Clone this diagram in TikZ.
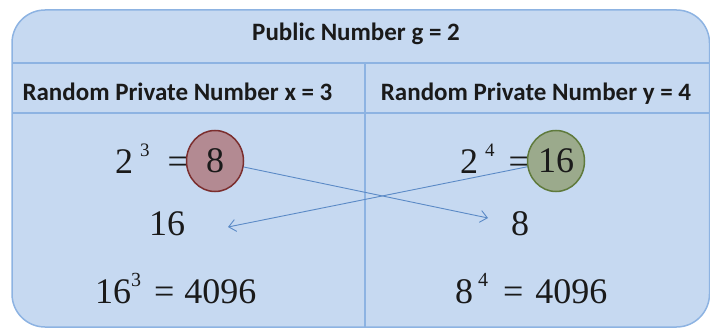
\documentclass[tikz,border=0pt]{standalone}
\usepackage{fontspec}
\setmainfont{Liberation Serif}
\newfontfamily\hdrfont{Carlito}
\usetikzlibrary{arrows.meta,shapes.geometric}
\definecolor{boxfill}{HTML}{C6D9F1}
\definecolor{boxline}{HTML}{8DB3E2}
\definecolor{arrowc}{HTML}{5B8AC6}
\definecolor{redfill}{HTML}{B38A92}
\definecolor{redline}{HTML}{7B2E2E}
\definecolor{grnfill}{HTML}{9BAA8C}
\definecolor{grnline}{HTML}{5F7A3C}
\definecolor{ink}{HTML}{1A1A1A}
\newcommand\mysup[3]{\raisebox{#1}{\fontsize{#2}{#2}\selectfont #3}}
\begin{document}
\begin{tikzpicture}[x=1pt,y=-1pt,
  hdr/.style={font=\hdrfont\bfseries\fontsize{25}{25}\selectfont, text=ink, inner sep=0pt, anchor=base},
  num/.style={font=\fontsize{36}{36}\selectfont, inner sep=0pt, anchor=base west, text=ink},
  circ/.style={ellipse, inner sep=0pt, minimum width=57pt, minimum height=61pt, line width=1.5pt, text=ink, font=\fontsize{36}{36}\selectfont},
  arr/.style={draw=arrowc, line width=0.9pt, -{Straight Barb[length=7pt,width=12pt]}},
  sep/.style={draw=boxline, line width=1.3pt}]
\useasboundingbox (0,0) rectangle (710,329);
\path[fill=boxfill, draw=boxline, line width=1.5pt, rounded corners=33pt] (12,10) rectangle (709.5,327);
\draw[sep] (12,63) -- (709.5,63);
\draw[sep] (12,113) -- (709.5,113);
\draw[sep] (365,63) -- (365,327);
\node[hdr] (pub) at (356,41) {Public Number g = 2};
\node[hdr] (px) at (177.5,100) {Random Private Number x = 3};
\node[hdr] (py) at (536,100) {Random Private Number y = 4};
% left column
\node[num] (la) at (115,173) {2\hspace{7pt}\mysup{17pt}{19}{3}\hspace{18pt}=};
\node[num, anchor=base] (l16) at (167,235) {16};
\node[num] (lc) at (95,303) {16\mysup{16.5pt}{20}{3}\hspace{13pt}=\hspace{10pt}4096};
% right column
\node[num] (ra) at (460,173) {2\hspace{7pt}\mysup{17pt}{19}{4}\hspace{14pt}=};
\node[num, anchor=base] (r8) at (520,235) {8};
\node[num] (rc) at (455,303) {8\hspace{5pt}\mysup{16.5pt}{20}{4}\hspace{15pt}=\hspace{12pt}4096};
% circles
\node[circ, fill=redfill, draw=redline] (c8) at (215,161) {8};
\node[circ, fill=grnfill, draw=grnline] (c16) at (556,161) {16};
% arrows
\coordinate (t8) at (488,218);
\coordinate (t16) at (228,227);
\draw[arr] (c8) -- (t8);
\draw[arr] (c16) -- (t16);
\end{tikzpicture}
\end{document}
